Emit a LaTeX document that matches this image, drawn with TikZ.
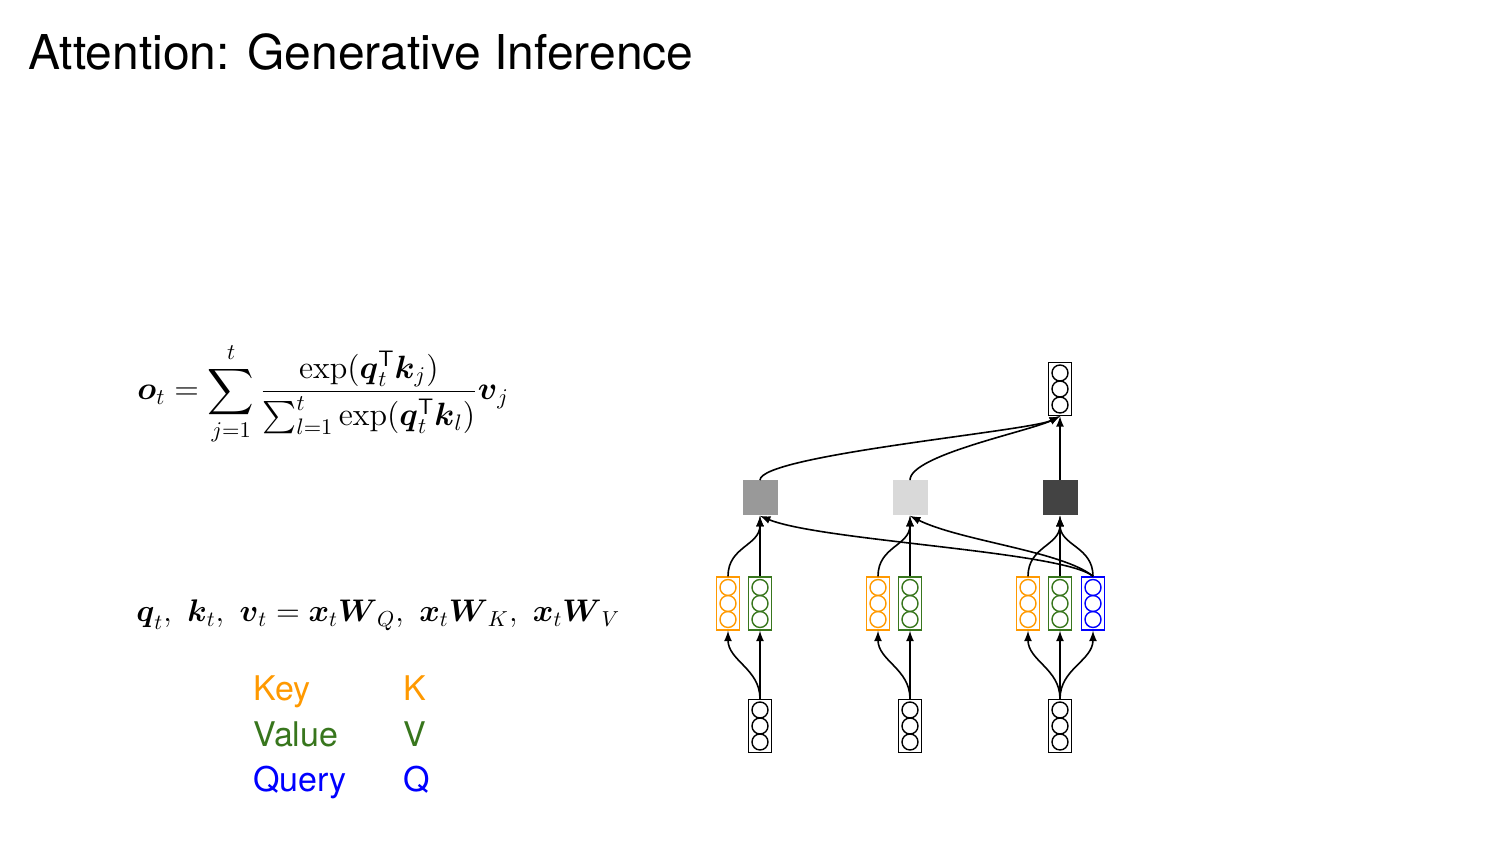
\documentclass[tikz,border=0pt]{standalone}
\usepackage{amssymb,amsmath}
\usepackage{fontspec}
\usepackage{xcolor}
\usepackage{tikz}
\usetikzlibrary{arrows}
\usetikzlibrary{calc}
\newfontfamily\helv{TeX Gyre Heros}
\definecolor{keycolor}{HTML}{FF9900}
\definecolor{valcolor}{HTML}{38761D}
\definecolor{qrycolor}{HTML}{0000FF}
\definecolor{wgtone}{HTML}{999999}
\definecolor{wgttwo}{HTML}{D9D9D9}
\definecolor{wgtthree}{HTML}{434343}

\tikzset{
  vecbox/.style={draw=#1,line width=0.7pt,minimum width=11.5pt,minimum height=26.5pt,inner sep=0pt},
  wgtbox/.style={fill=#1,minimum size=17.5pt,inner sep=0pt},
  conn/.style={black,line width=0.8pt,-latex},
}
% three circles inside a vector box
\newcommand{\vecdots}[2]{%
  \foreach \d in {-8,0,8}
    \draw[#2,line width=0.7pt] ($(#1.center)+(0pt,\d pt)$) circle (4pt);}

\begin{document}
\begin{tikzpicture}[x=0.5pt,y=0.5pt]
  \useasboundingbox (0,0) rectangle (1500,844);
  \node[anchor=base west,inner sep=0] (title) at (28,774)
    {\helv\fontsize{24}{28}\selectfont Attention: Generative Inference};
%% formulas
  \node[anchor=west,inner sep=0] (attn) at (137,450)
    {\scalebox{1.12}{\fontsize{14.4}{17}\selectfont $\displaystyle \boldsymbol{o}_t = \sum_{j=1}^{t}
      \frac{\exp(\boldsymbol{q}_t^{\mathsf{T}}\boldsymbol{k}_j)}{\sum_{l=1}^{t}\exp(\boldsymbol{q}_t^{\mathsf{T}}\boldsymbol{k}_l)}\boldsymbol{v}_j$}};
  \node[anchor=base west,inner sep=0] (proj) at (136,222)
    {\scalebox{1.085}{\fontsize{14.4}{17}\selectfont $\boldsymbol{q}_t,\ \boldsymbol{k}_t,\ \boldsymbol{v}_t = \boldsymbol{x}_t\boldsymbol{W}_Q,\ \boldsymbol{x}_t\boldsymbol{W}_K,\ \boldsymbol{x}_t\boldsymbol{W}_V$}};
%% legend
  \foreach \name/\letter/\col/\y in {Key/K/keycolor/143, Value/V/valcolor/97, Query/Q/qrycolor/52} {
    \node[anchor=base west,inner sep=0,text=\col] (lg\letter) at (253,\y) {\helv\fontsize{17}{20}\selectfont \name};
    \node[anchor=base west,inner sep=0,text=\col] (ls\letter) at (403,\y) {\helv\fontsize{17}{20}\selectfont \letter};
  }
%% network
  \foreach \c/\x in {1/760, 2/910, 3/1060} {
    \node[vecbox=black] (x\c) at (\x,118) {};
    \vecdots{x\c}{black}
    \node[vecbox=keycolor] (k\c) at (\x-32,240.5) {};
    \vecdots{k\c}{keycolor}
    \node[vecbox=valcolor] (v\c) at (\x,240.5) {};
    \vecdots{v\c}{valcolor}
  }
  \node[vecbox=qrycolor] (q3) at (1093,240.5) {};
  \vecdots{q3}{qrycolor}
  \node[wgtbox=wgtone] (s1) at (760,346) {};
  \node[wgtbox=wgttwo] (s2) at (910,346) {};
  \node[wgtbox=wgtthree] (s3) at (1060,346) {};
  \node[vecbox=black] (out) at (1060,455) {};
  \vecdots{out}{black}
  \foreach \c in {1,2,3} {
    \draw[conn] (x\c.north) .. controls +(0,30) and +(0,-30) .. (k\c.south);
    \draw[conn] (x\c.north) -- (v\c.south);
    \draw[conn] (k\c.north) .. controls +(0,30) and +(0,-30) .. (s\c.south);
    \draw[conn] (v\c.north) -- (s\c.south);
  }
  \draw[conn] (x3.north) .. controls +(0,30) and +(0,-30) .. (q3.south);
  \draw[conn] (q3.north) .. controls +(0,30) and +(0,-30) .. (s3.south);
  \draw[conn] (q3.north) .. controls +(-30,25) and +(50,-25) .. (s2.south);
  \draw[conn] (q3.north) .. controls +(-30,25) and +(60,-25) .. (s1.south);
  \draw[conn] (s1.north) .. controls +(0,25) and +(-30,-15) .. (out.south);
  \draw[conn] (s2.north) .. controls +(0,25) and +(-30,-15) .. (out.south);
  \draw[conn] (s3.north) -- (out.south);
\end{tikzpicture}
\end{document}
